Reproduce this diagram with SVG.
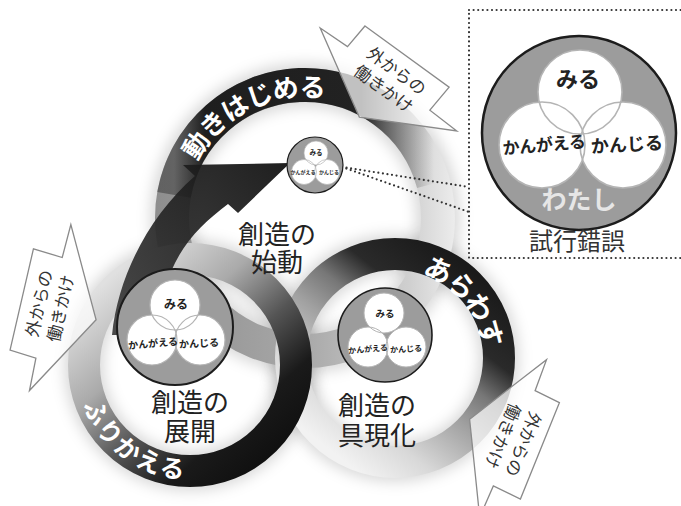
<svg xmlns="http://www.w3.org/2000/svg" width="681" height="506" viewBox="0 0 681 506">
<defs>
<style>
text { font-family: "Noto Sans CJK JP", "Noto Sans", sans-serif; }
.lbl { font-size: 26px; fill: #222; text-anchor: middle; }
.arc { font-weight: 700; fill: #fff; text-anchor: middle; dominant-baseline: central; }
.a1 { font-size: 26px; }
.a2 { font-size: 27px; }
.a3 { font-size: 25px; }
.call { fill: #fff; fill-opacity: .72; stroke: #8a8a8a; stroke-width: 1.3; }
.ct { font-size: 17px; fill: #333; text-anchor: middle; }
.node { fill: #9c9c9c; stroke: #1c1c1c; }
.sub { fill: #fff; }
.subl { fill: none; stroke: #b4b4b4; }
.nt { font-weight: 700; fill: #222; text-anchor: middle; }
.dot { fill: none; stroke: #333; stroke-width: 2.2; stroke-linecap: round; stroke-dasharray: 0 4.6; }
.ring { fill: none; }
.halo { fill: none; stroke: #000; stroke-opacity: .15; filter: url(#blur); }
</style>
<filter id="blur" x="-30%" y="-30%" width="160%" height="160%"><feGaussianBlur stdDeviation="7"/></filter>
<linearGradient id="gA" gradientUnits="userSpaceOnUse" x1="155" y1="0" x2="455" y2="0">
<stop offset="0" stop-color="#8e8e8e"/><stop offset=".5" stop-color="#a8a8a8"/><stop offset=".85" stop-color="#d0d0d0"/><stop offset="1" stop-color="#ececec"/>
</linearGradient>
<linearGradient id="gAd" gradientUnits="userSpaceOnUse" x1="174" y1="0" x2="434" y2="0">
<stop offset="0" stop-color="#1e1e1e" stop-opacity=".4"/><stop offset=".12" stop-color="#1e1e1e"/><stop offset=".72" stop-color="#222"/><stop offset="1" stop-color="#444" stop-opacity="0"/>
</linearGradient>
<linearGradient id="gB" gradientUnits="userSpaceOnUse" x1="130" y1="260" x2="290" y2="440">
<stop offset="0" stop-color="#e0e0e0"/><stop offset=".32" stop-color="#aaa"/><stop offset=".57" stop-color="#555"/><stop offset=".8" stop-color="#1a1a1a"/><stop offset="1" stop-color="#101010"/>
</linearGradient>
<linearGradient id="gC" gradientUnits="userSpaceOnUse" x1="470" y1="270" x2="330" y2="450">
<stop offset="0" stop-color="#1a1a1a"/><stop offset=".25" stop-color="#2a2a2a"/><stop offset=".4" stop-color="#777"/><stop offset=".55" stop-color="#a0a0a0"/><stop offset=".8" stop-color="#d8d8d8"/><stop offset="1" stop-color="#f2f2f2"/>
</linearGradient>
<linearGradient id="gArr" gradientUnits="userSpaceOnUse" x1="290" y1="163" x2="120" y2="320">
<stop offset="0" stop-color="#0e0e0e"/><stop offset="1" stop-color="#3c3c3c"/>
</linearGradient>
<polygon id="co" points="-52,-29 52,-29 50,1 84,2 -3,48 -87,-1 -54,-2"/>
</defs>

<g id="rings">
<circle class="halo" cx="305" cy="218" r="133" stroke-width="44"/>
<circle class="halo" cx="395" cy="358" r="104" stroke-width="40"/>
<circle class="halo" cx="190" cy="365" r="106" stroke-width="40"/>
<circle class="ring" cx="305" cy="218" r="133" stroke="url(#gA)" stroke-width="34"/>
<path class="ring" d="M174,194.9 A133,133 0 0 1 433.5,183.6" stroke="url(#gAd)" stroke-width="34"/>
<circle class="ring" cx="395" cy="358" r="104" stroke="url(#gC)" stroke-width="32"/>
<circle class="ring" cx="190" cy="365" r="106" stroke="url(#gB)" stroke-width="32"/>
</g>

<g id="connectors">
<path d="M183,165 L290,163 L238,213 L228,204 C200,225 175,250 165,290 L160,335 L112,335 C118,275 150,215 195,176 Z" fill="url(#gArr)" fill-opacity=".93"/>
<path class="dot" d="M342,167 L469,187"/>
<path class="dot" d="M342,167 L469,212"/>
</g>

<g id="ring-labels">
<text class="arc a1" x="194.5" y="144" transform="rotate(-56.2 194.5 144)">動</text>
<text class="arc a1" x="212.1" y="122.8" transform="rotate(-44.3 212.1 122.8)">き</text>
<text class="arc a1" x="233.8" y="105.7" transform="rotate(-32.4 233.8 105.7)">は</text>
<text class="arc a1" x="258.6" y="93.4" transform="rotate(-20.4 258.6 93.4)">じ</text>
<text class="arc a1" x="285.3" y="86.5" transform="rotate(-8.5 285.3 86.5)">め</text>
<text class="arc a1" x="312.9" y="85.2" transform="rotate(3.4 312.9 85.2)">る</text>
<text class="arc a2" x="439.3" y="268.4" transform="rotate(26.3 439.3 268.4)">あ</text>
<text class="arc a2" x="462.7" y="284.4" transform="rotate(42.6 462.7 284.4)">ら</text>
<text class="arc a2" x="480.7" y="306.4" transform="rotate(59 480.7 306.4)">わ</text>
<text class="arc a2" x="491.7" y="332.6" transform="rotate(75.3 491.7 332.6)">す</text>
<text class="arc a3" x="98.1" y="411.4" transform="rotate(63.2 98.1 411.4)">ふ</text>
<text class="arc a3" x="111.3" y="431.5" transform="rotate(49.8 111.3 431.5)">り</text>
<text class="arc a3" x="128.9" y="447.9" transform="rotate(36.4 128.9 447.9)">か</text>
<text class="arc a3" x="149.8" y="459.8" transform="rotate(23 149.8 459.8)">え</text>
<text class="arc a3" x="172.8" y="466.6" transform="rotate(9.6 172.8 466.6)">る</text>
</g>

<g id="node-shidou">
<circle class="node" cx="315" cy="165" r="28" stroke-width="1.2"/>
<circle class="sub" cx="316" cy="153" r="12"/>
<circle class="sub" cx="304" cy="172" r="12.5"/>
<circle class="sub" cx="327" cy="172" r="12.5"/>
<circle class="subl" cx="316" cy="153" r="12" stroke-width=".7"/>
<circle class="subl" cx="304" cy="172" r="12.5" stroke-width=".7"/>
<circle class="subl" cx="327" cy="172" r="12.5" stroke-width=".7"/>
<text class="nt" x="316" y="155" font-size="6.5">みる</text>
<text class="nt" x="303" y="174" font-size="5">かんがえる</text>
<text class="nt" x="329" y="174" font-size="5">かんじる</text>
<text class="lbl"><tspan x="277" y="244">創造の</tspan><tspan x="277" y="272">始動</tspan></text>
</g>

<g id="node-tenkai">
<circle class="node" cx="175" cy="327" r="58" stroke-width="2"/>
<circle class="sub" cx="175" cy="305" r="25"/>
<circle class="sub" cx="152" cy="340" r="25"/>
<circle class="sub" cx="200" cy="340" r="25"/>
<circle class="subl" cx="175" cy="305" r="25" stroke-width="1.2"/>
<circle class="subl" cx="152" cy="340" r="25" stroke-width="1.2"/>
<circle class="subl" cx="200" cy="340" r="25" stroke-width="1.2"/>
<text class="nt" x="176" y="309" font-size="12">みる</text>
<text class="nt" x="153" y="347" font-size="10" transform="rotate(-5 153 343)">かんがえる</text>
<text class="nt" x="199" y="347" font-size="10" transform="rotate(-3 199 343)">かんじる</text>
<text class="lbl"><tspan x="190" y="412">創造の</tspan><tspan x="190" y="441">展開</tspan></text>
</g>

<g id="node-gugenka">
<circle class="node" cx="385" cy="335" r="47" stroke-width="1.6"/>
<circle class="sub" cx="384" cy="313" r="20"/>
<circle class="sub" cx="368" cy="347" r="20"/>
<circle class="sub" cx="406" cy="347" r="20"/>
<circle class="subl" cx="384" cy="313" r="20" stroke-width="1"/>
<circle class="subl" cx="368" cy="347" r="20" stroke-width="1"/>
<circle class="subl" cx="406" cy="347" r="20" stroke-width="1"/>
<text class="nt" x="385" y="317" font-size="9.5">みる</text>
<text class="nt" x="368" y="352" font-size="8" transform="rotate(-5 368 349)">かんがえる</text>
<text class="nt" x="406" y="352" font-size="8" transform="rotate(-3 406 349)">かんじる</text>
<text class="lbl"><tspan x="377" y="415">創造の</tspan><tspan x="377" y="445">具現化</tspan></text>
</g>

<g id="inset">
<rect class="dot" x="469" y="10" width="230" height="248"/>
<circle class="node" cx="579" cy="133" r="97" stroke-width="2.5"/>
<circle class="sub" cx="580" cy="92" r="42"/>
<circle class="sub" cx="542" cy="145" r="43"/>
<circle class="sub" cx="623" cy="145" r="43"/>
<circle class="subl" cx="580" cy="92" r="42" stroke-width="1.6"/>
<circle class="subl" cx="542" cy="145" r="43" stroke-width="1.6"/>
<circle class="subl" cx="623" cy="145" r="43" stroke-width="1.6"/>
<text class="nt" x="578" y="87" font-size="22">みる</text>
<text class="nt" x="544" y="151" font-size="17" letter-spacing="-0.3" transform="rotate(-5 544 145)">かんがえる</text>
<text class="nt" x="627" y="151" font-size="18" transform="rotate(-3 627 145)">かんじる</text>
<text x="579" y="209" font-size="25" font-weight="700" fill="#e6e6e6" text-anchor="middle">わたし</text>
<text x="577" y="250" font-size="24" fill="#333" text-anchor="middle">試行錯誤</text>
</g>

<g id="callout-top">
<use href="#co" class="call" transform="translate(390,80) rotate(36)"/>
<text class="ct" transform="translate(390,80) rotate(36)"><tspan x="0" y="-5">外からの</tspan><tspan x="0" y="17">働きかけ</tspan></text>
</g>
<g id="callout-left">
<use href="#co" class="call" transform="translate(50,306) rotate(-77)"/>
<text class="ct" transform="translate(50,306) rotate(-77)"><tspan x="0" y="-5">外からの</tspan><tspan x="0" y="17">働きかけ</tspan></text>
</g>
<g id="callout-right">
<use href="#co" class="call" transform="translate(513,440) rotate(112)"/>
<text class="ct" transform="translate(513,440) rotate(112)"><tspan x="0" y="-5">外からの</tspan><tspan x="0" y="17">働きかけ</tspan></text>
</g>
</svg>
